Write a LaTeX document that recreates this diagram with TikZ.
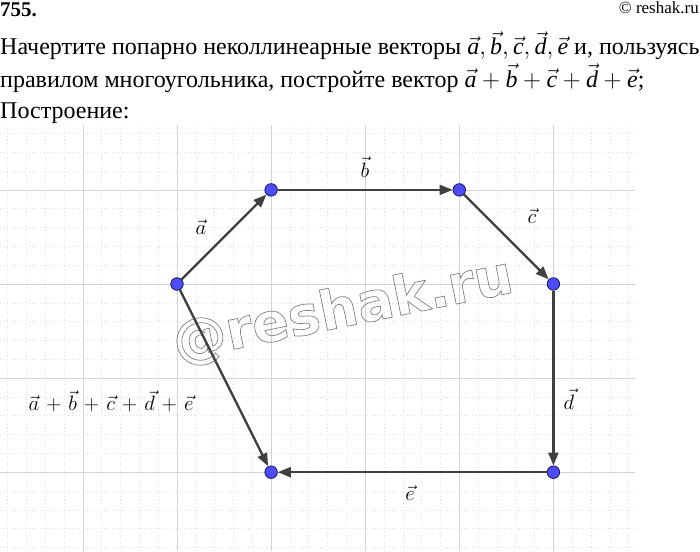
\documentclass[tikz,border=0pt]{standalone}
\usepackage{fontspec}
\setmainfont{Liberation Serif}
\newfontfamily\wmfont{DejaVu Sans Bold}
\usetikzlibrary{arrows.meta,calc}
\definecolor{vecgray}{HTML}{404040}
\definecolor{ptblue}{HTML}{4D4DFF}
\definecolor{ptedge}{HTML}{1A1A4D}
\definecolor{majgrid}{HTML}{D4D4D4}
\definecolor{mingrid}{HTML}{E4E4E4}
\newcommand{\vv}[1]{\vec{\mathit{#1}}}
\begin{document}
\begin{tikzpicture}[x=1pt,y=-1pt,
  hdr/.style={anchor=base west,inner sep=0pt,font=\fontsize{24}{29}\selectfont},
  vecline/.style={draw=vecgray,line width=2.3pt,-{Triangle[length=13pt,width=10pt]}},
  pt/.style={circle,fill=ptblue,draw=ptedge,line width=0.8pt,minimum size=12.5pt,inner sep=0pt},
  lbl/.style={inner sep=0pt,font=\fontsize{20.74}{24}\selectfont},
  majorline/.style={draw=majgrid,line width=0.8pt},
  minorline/.style={draw=mingrid,line width=0.6pt,dash pattern=on 1.2pt off 2.4pt},
  wm/.style={inner sep=0pt,rotate=11.5,font=\wmfont\fontsize{54}{60}\selectfont}]
\useasboundingbox (0,0) rectangle (700,551);
% header
\node[anchor=base west,inner sep=0pt,font=\fontsize{21}{24}\selectfont\bfseries] (num) at (0,17) {755.};
\node[anchor=base east,inner sep=0pt,font=\fontsize{17}{20}\selectfont] (copy) at (699,14) {© reshak.ru};
\node[hdr] (l1) at (0,55) {Начертите попарно неколлинеарные векторы $\vv{a}, \vv{b}, \vv{c}, \vv{d}, \vv{e}$ и, пользуясь};
\node[hdr] (l2) at (0,87) {правилом многоугольника, постройте вектор $\vv{a}+\vv{b}+\vv{c}+\vv{d}+\vv{e}$;};
\node[hdr] (l3) at (0,118) {Построение:};
% grid
\begin{scope}
\clip (0,125) rectangle (635,551);
\foreach \k in {-9,...,24} {
  \draw[minorline] ({177+18.82*\k},125) -- ({177+18.82*\k},551);
}
\foreach \k in {-9,...,14} {
  \draw[minorline] (0,{284+18.82*\k}) -- (635,{284+18.82*\k});
}
\foreach \k in {-1,...,4} {
  \draw[majorline] ({177+94.1*\k},125) -- ({177+94.1*\k},551);
}
\foreach \k in {-1,...,2} {
  \draw[majorline] (0,{284+94.1*\k}) -- (635,{284+94.1*\k});
}
\end{scope}
% watermark (outlined text)
\node[wm] (wm) at (343,311) {\special{pdf:literal direct 1 Tr 0.7 w 0.5 G}@reshak.ru\special{pdf:literal direct 0 Tr}};
% points
\node[pt] (A) at (177,284) {};
\node[pt] (B) at (271.1,189.9) {};
\node[pt] (C) at (459.3,189.9) {};
\node[pt] (D) at (553.4,284) {};
\node[pt] (E) at (553.4,472.2) {};
\node[pt] (F) at (271.1,472.2) {};
% vectors
\draw[vecline] (A) -- (B);
\draw[vecline] (B) -- (C);
\draw[vecline] (C) -- (D);
\draw[vecline] (D) -- (E);
\draw[vecline] (E) -- (F);
\draw[vecline] (A) -- (F);
% labels
\node[lbl] (la) at (201,227) {$\vec{a}$};
\node[lbl] (lb) at (365,167) {$\vec{b}$};
\node[lbl] (lc) at (532,216) {$\vec{c}$};
\node[lbl] (ld) at (569,399) {$\vec{d}$};
\node[lbl] (le) at (410,493) {$\vec{e}$};
\node[lbl] (ls) at (111,401) {$\medmuskip=6.2mu \vec{a}+\vec{b}+\vec{c}+\vec{d}+\vec{e}$};
\end{tikzpicture}
\end{document}
